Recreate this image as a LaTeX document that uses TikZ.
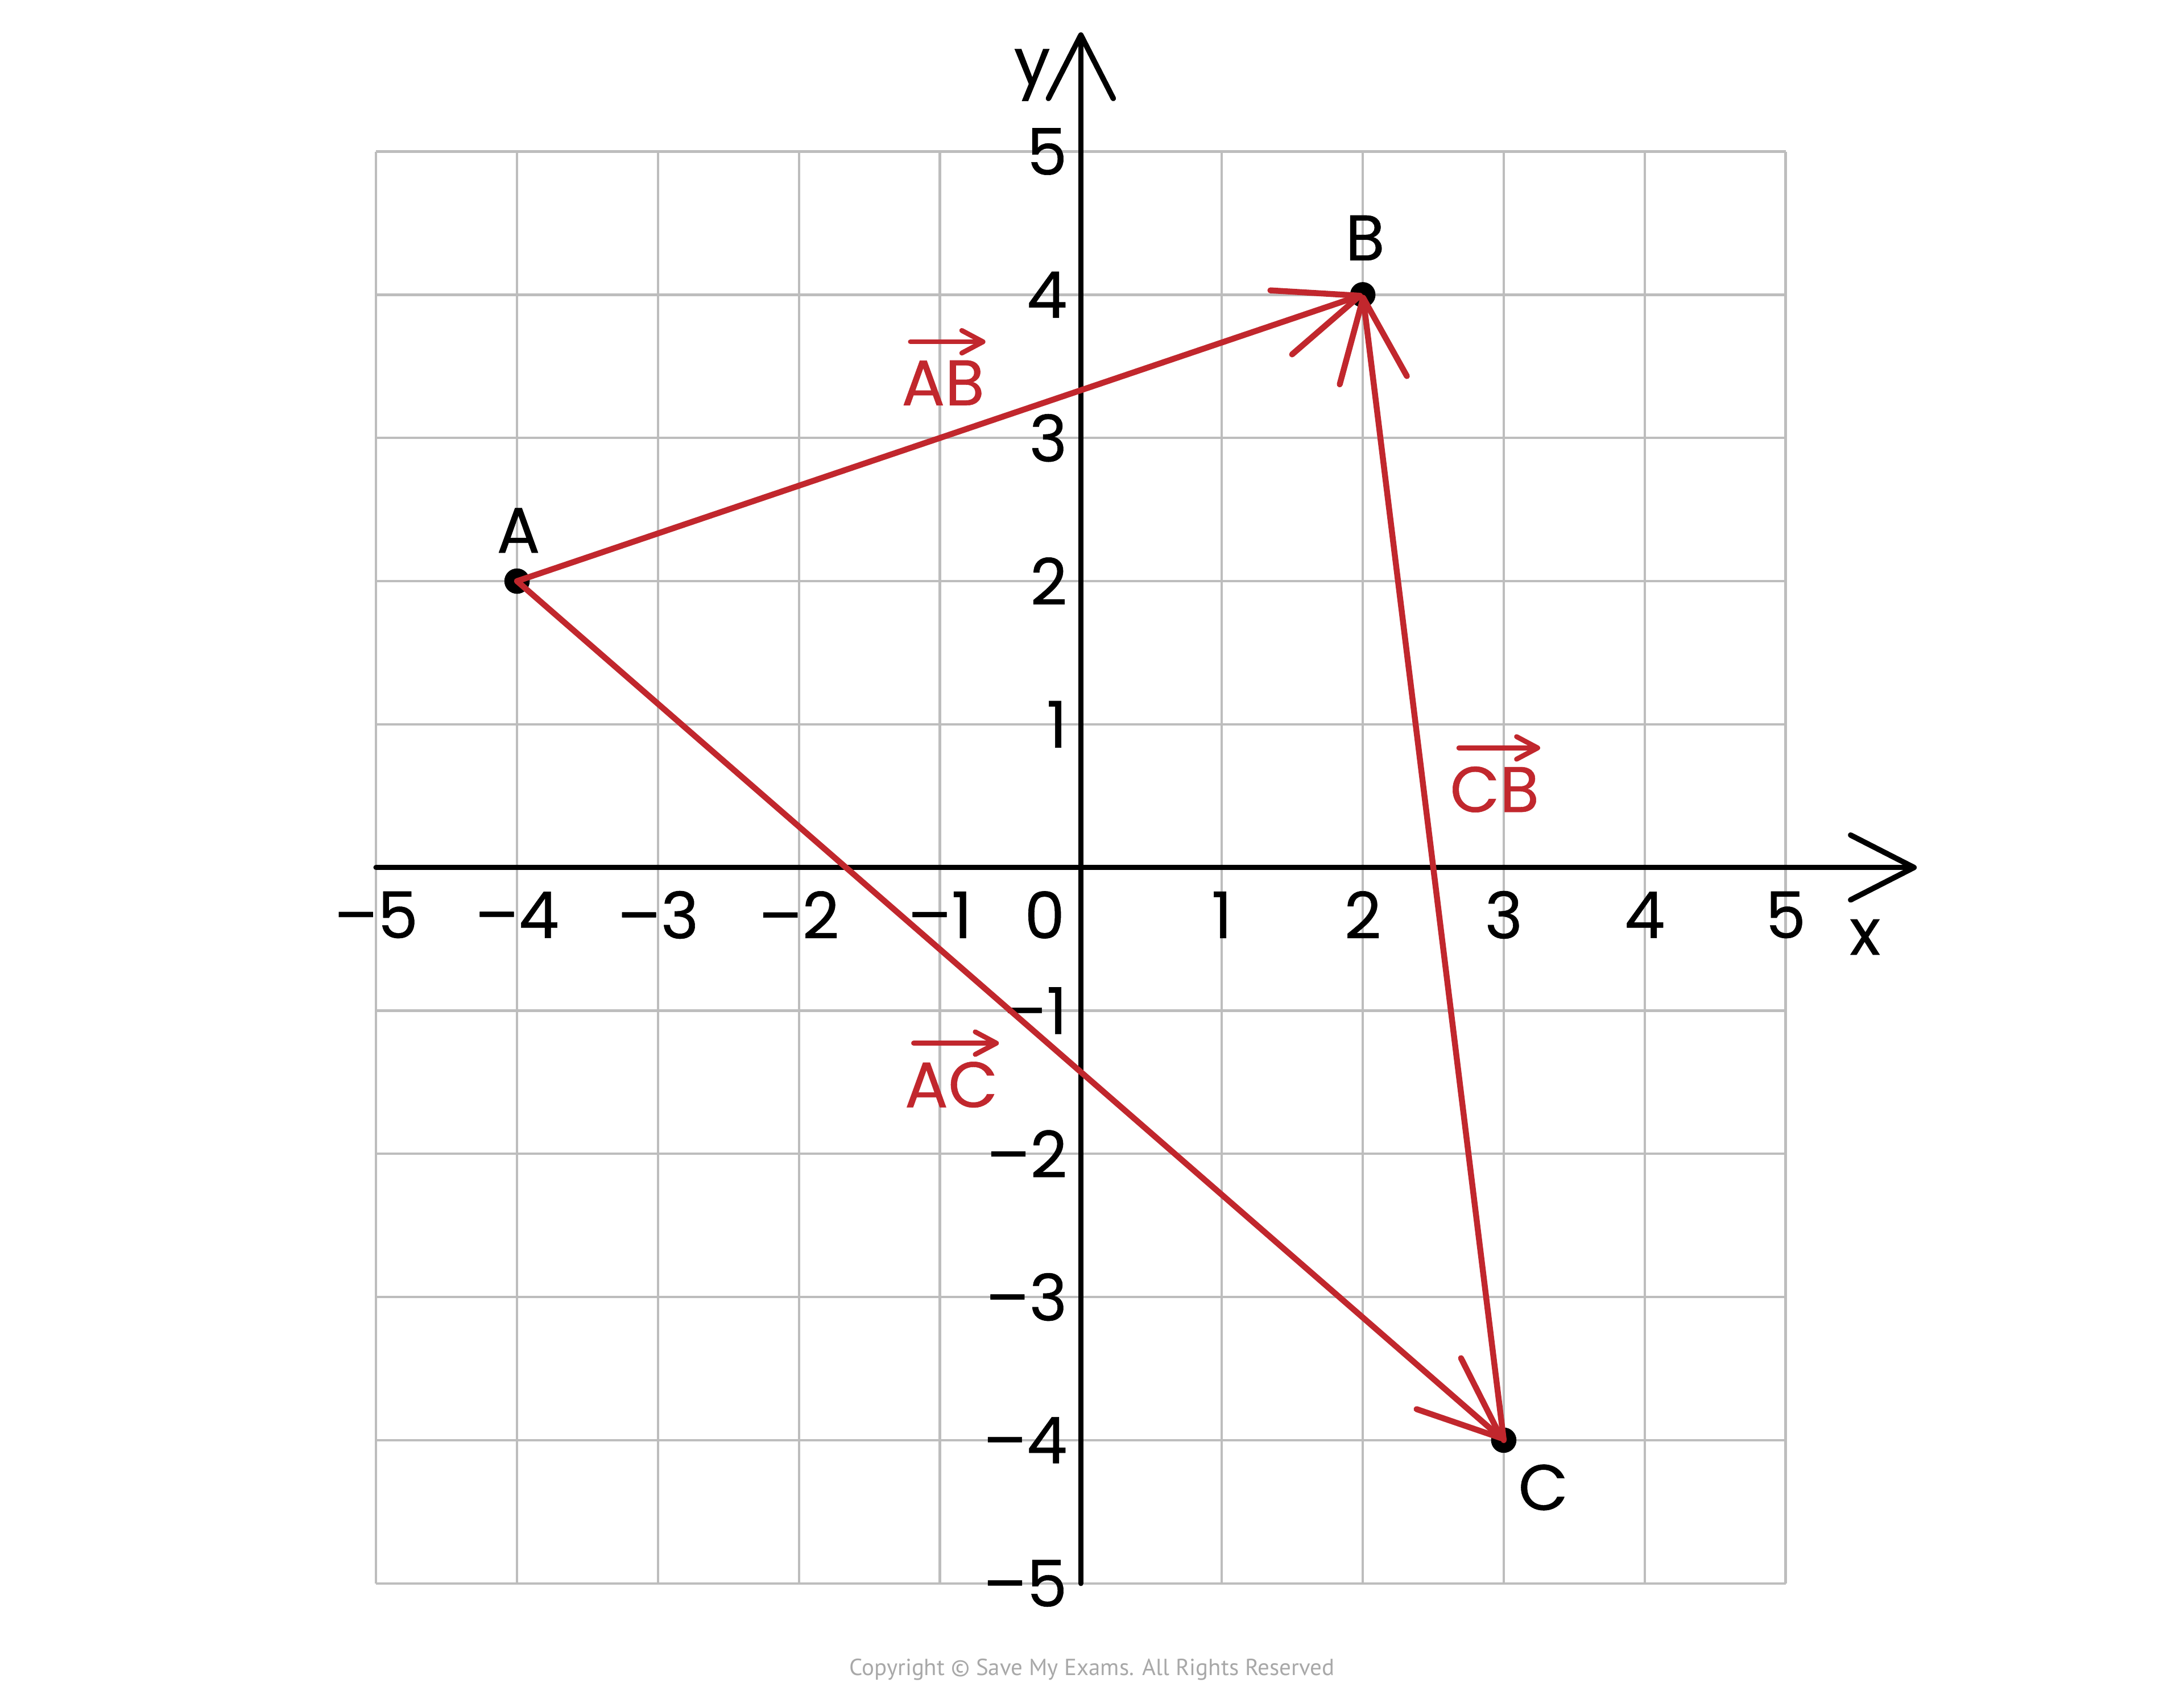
\documentclass[tikz,border=0pt]{standalone}
\usepackage{fontspec}
\setmainfont{Poppins}[FakeBold=0.5]
\newfontfamily\copyfont{PT Sans}
\usetikzlibrary{arrows.meta,positioning}
\definecolor{vecred}{HTML}{C1272D}
\definecolor{gridgrey}{HTML}{BDBDBD}
\definecolor{copygrey}{HTML}{A8A8A8}
\begin{document}
\begin{tikzpicture}
[x=1cm,y=1.016cm,
  gridline/.style={gridgrey,line width=0.5pt},%
  axisline/.style={line width=1.1pt,line cap=round,
    -{Straight Barb[length=4.5mm,width=4.6mm,round]}},%
  vecline/.style={vecred,line width=1.2pt,line cap=round,
    -{Straight Barb[length=5.9mm,width=4.8mm,round]}},%
  overarrow/.style={vecred,line width=1pt,line cap=round,
    -{Straight Barb[length=1.5mm,width=1.6mm,round]}},%
  dotnode/.style={shape=circle,fill=black,inner sep=0pt,minimum size=1.8mm},%
  numlabel/.style={font=\fontsize{13}{15}\selectfont,inner sep=0pt},%
  veclabel/.style={numlabel,text=vecred}]
\useasboundingbox (-7.668cm,-5.840cm) rectangle (7.826cm,6.156cm);
%% grid
\foreach \g in {-5,...,5} {
  \draw[gridline] (\g,-5) -- (\g,5);
  \draw[gridline] (-5,\g) -- (5,\g);
}
%% axes
\coordinate (xstart) at (-5,0);
\coordinate (xend) at (5.93,0);
\coordinate (ystart) at (0,-5);
\coordinate (yend) at (0,5.833);
\draw[axisline] (xstart) -- (xend);
\draw[axisline] (ystart) -- (yend);
\node[numlabel] (xname) at (5.563,-0.486) {x};
\node[numlabel] (yname) at (-0.346,5.535) {y};
\node[numlabel] (origin) at (-0.257,-0.331) {0};
%% tick numbers
\foreach \n in {1,...,5} {
  \node[numlabel] (xpos\n) at (\n,-0.331) {\n};
  \node[numlabel] (xneg\n) at (-\n,-0.331) {–\n};
  \node[numlabel,anchor=east] (ypos\n) at (-0.09,\n) {\n};
  \node[numlabel,anchor=east] (yneg\n) at (-0.09,-\n) {–\n};
}
%% points
\foreach \nodename/\x/\y/\lx/\ly in {A/-4/2/-3.99/2.354, B/2/4/2.016/4.397,
  C/3/-4/3.28/-4.33} {
  \node (\nodename) at (\x,\y) [dotnode] {};
  \node[numlabel] (\nodename name) at (\lx,\ly) {\nodename};
}
%% vectors
\path
\foreach \startnode/\endnode in {A/B, A/C, C/B} {
  (\startnode.center) edge[vecline] (\endnode.center)
};
%% vector names
\foreach \labname/\txt/\x/\y in {ABlab/AB/-0.978/3.385, CBlab/CB/2.935/0.545,
  AClab/AC/-0.919/-1.517} {
  \node[veclabel] (\labname) at (\x,\y) {\txt};
  \draw[overarrow] ([xshift=0.7mm,yshift=1.25mm]\labname.north west)
    -- ([yshift=1.25mm]\labname.north east);
}
\node[font=\copyfont\fontsize{4.7}{6}\selectfont,text=copygrey,inner sep=0pt]
  (copyright) at (0.079,-5.603) {Copyright © Save My Exams. All Rights Reserved};
\end{tikzpicture}
\end{document}
